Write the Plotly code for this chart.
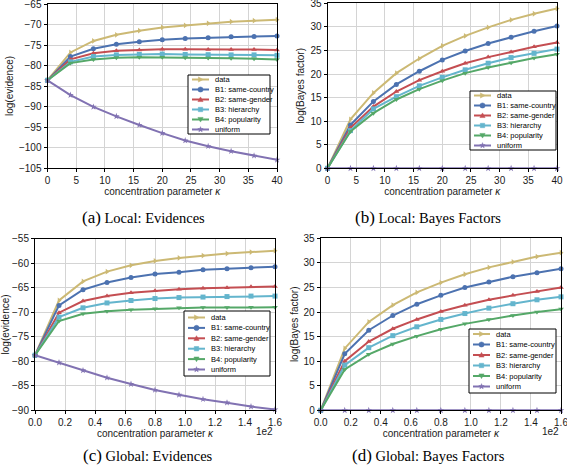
import math
import plotly.graph_objects as go

# ---------------- data ----------------
kappa_local = [0, 4, 8, 12, 16, 20, 24, 28, 32, 36, 40]
kappa_global = [0.0, 0.16, 0.32, 0.48, 0.64, 0.80, 0.96, 1.12, 1.28, 1.44, 1.60]  # x 1e2

series_names = ["data", "B1: same-country", "B2: same-gender", "B3: hierarchy", "B4: popularity", "uniform"]

local_ev_data = [-83.6, -76.8, -74.0, -72.5, -71.5, -70.7, -70.2, -69.7, -69.3, -69.05, -68.8]
local_ev_b1 = [-83.6, -77.8, -75.9, -74.8, -74.2, -73.7, -73.4, -73.2, -73.0, -72.9, -72.8]
local_ev_b2 = [-83.6, -78.5, -77.0, -76.4, -76.2, -76.0, -76.0, -76.1, -76.1, -76.1, -76.2]
local_ev_b3 = [-83.6, -79.1, -77.8, -77.4, -77.3, -77.2, -77.3, -77.35, -77.4, -77.4, -77.5]
local_ev_b4 = [-83.6, -79.4, -78.5, -78.1, -78.0, -78.0, -78.1, -78.15, -78.2, -78.35, -78.5]
local_ev_uni = [-83.6, -87.2, -90.1, -92.4, -94.5, -96.5, -98.3, -99.7, -100.9, -102.0, -103.0]

local_bf_data = [0, 10.4, 16.0, 20.2, 23.3, 26.0, 28.1, 29.9, 31.5, 32.8, 33.9]
local_bf_b1 = [0, 9.2, 14.2, 17.8, 20.6, 23.0, 24.9, 26.5, 27.8, 29.1, 30.2]
local_bf_b2 = [0, 8.6, 13.1, 16.3, 18.7, 20.6, 22.3, 23.6, 24.7, 25.8, 26.7]
local_bf_b3 = [0, 8.0, 12.6, 15.2, 17.5, 19.3, 20.9, 22.3, 23.5, 24.4, 25.3]
local_bf_b4 = [0, 7.8, 11.7, 14.6, 16.8, 18.6, 20.2, 21.4, 22.4, 23.4, 24.2]
local_bf_uni = [0, 0, 0, 0, 0, 0, 0, 0, 0, 0, 0]

global_ev_data = [-78.8, -67.6, -63.7, -61.7, -60.4, -59.5, -58.9, -58.4, -58.0, -57.7, -57.4]
global_ev_b1 = [-78.8, -68.6, -65.4, -63.9, -62.9, -62.2, -61.8, -61.3, -61.1, -60.9, -60.7]
global_ev_b2 = [-78.8, -70.1, -67.7, -66.7, -66.0, -65.6, -65.3, -65.1, -65.0, -64.8, -64.75]
global_ev_b3 = [-78.8, -71.0, -69.1, -68.1, -67.6, -67.2, -67.0, -66.9, -66.8, -66.7, -66.7]
global_ev_b4 = [-78.8, -71.8, -70.3, -69.8, -69.5, -69.3, -69.1, -69.05, -69.05, -69.0, -69.0]
global_ev_uni = [-78.8, -80.3, -81.9, -83.4, -84.7, -85.9, -86.9, -87.8, -88.5, -89.3, -89.9]

global_bf_data = [0, 12.6, 18.0, 21.4, 24.0, 26.0, 27.7, 29.1, 30.2, 31.3, 32.1]
global_bf_b1 = [0, 11.5, 16.3, 19.3, 21.6, 23.4, 25.0, 26.1, 27.2, 28.0, 28.8]
global_bf_b2 = [0, 10.0, 14.0, 16.6, 18.5, 20.1, 21.4, 22.5, 23.4, 24.2, 25.0]
global_bf_b3 = [0, 9.2, 12.75, 15.2, 17.0, 18.5, 19.7, 20.8, 21.7, 22.5, 23.1]
global_bf_b4 = [0, 8.3, 11.4, 13.5, 15.1, 16.5, 17.6, 18.5, 19.3, 20.0, 20.6]
global_bf_uni = [0, 0, 0, 0, 0, 0, 0, 0, 0, 0, 0]

captions = ["Local: Evidences", "Local: Bayes Factors", "Global: Evidences", "Global: Bayes Factors"]
caption_letters = ["(a)", "(b)", "(c)", "(d)"]

# ---------------- style ----------------
W, H = 567, 465
colors = ["#ccb974", "#4c72b0", "#c44e52", "#64b5cd", "#55a868", "#8172b2"]
symbols = ["triangle-right", "circle", "triangle-up", "square", "triangle-down", "star"]
FONT = "Liberation Sans, Arial, sans-serif"


def px(x):
    return x / W


def py(y):
    return 1 - y / H


panels = [
    dict(x=kappa_local, ys=[local_ev_data, local_ev_b1, local_ev_b2, local_ev_b3, local_ev_b4, local_ev_uni],
         xpx=(47.5, 277), ypx=(4, 168), xr=[0, 40], yr=[-105, -64.98], ydt=5, xdt=5,
         ytitle="log(evidence)", xfmt="d", leg=(188, 75, 270, 134, 79.5, 10.0), cap=(143, 218)),
    dict(x=kappa_local, ys=[local_bf_data, local_bf_b1, local_bf_b2, local_bf_b3, local_bf_b4, local_bf_uni],
         xpx=(327.5, 557), ypx=(3.3, 168.3), xr=[0, 40], yr=[0, 35.02], ydt=5, xdt=5,
         ytitle="log(Bayes factor)", xfmt="d", leg=(470, 91, 556, 150, 95.5, 10.0), cap=(428, 218)),
    dict(x=kappa_global, ys=[global_ev_data, global_ev_b1, global_ev_b2, global_ev_b3, global_ev_b4, global_ev_uni],
         xpx=(35, 275), ypx=(238.8, 410), xr=[0, 1.6], yr=[-90, -54.98], ydt=5, xdt=0.2,
         ytitle="log(evidence)", xfmt=".1f", leg=(184, 311, 270, 376, 317.5, 10.4), cap=(148, 455)),
    dict(x=kappa_global, ys=[global_bf_data, global_bf_b1, global_bf_b2, global_bf_b3, global_bf_b4, global_bf_uni],
         xpx=(320.7, 561), ypx=(238.3, 410.3), xr=[0, 1.6], yr=[0, 35.02], ydt=5, xdt=0.2,
         ytitle="log(Bayes factor)", xfmt=".1f", leg=(469, 329, 556, 393, 334, 10.5), cap=(428.5, 455)),
]

fig = go.Figure()
shapes = []
annotations = []
layout = dict(
    width=W, height=H, margin=dict(l=0, r=0, t=0, b=0, autoexpand=False),
    paper_bgcolor="white", plot_bgcolor="white",
    font=dict(family=FONT, size=10, color="#222222"),
    showlegend=False,
)


def marker_shape(sym, cx, cy, color, r=2.6):
    """Legend glyph marker in pixel coordinates -> paper shape."""
    if sym == "circle":
        return dict(type="circle", xref="paper", yref="paper",
                    x0=px(cx - r), x1=px(cx + r), y0=py(cy + r), y1=py(cy - r),
                    fillcolor=color, line=dict(color=color, width=0.5))
    if sym == "square":
        return dict(type="rect", xref="paper", yref="paper",
                    x0=px(cx - r * 0.85), x1=px(cx + r * 0.85), y0=py(cy + r * 0.85), y1=py(cy - r * 0.85),
                    fillcolor=color, line=dict(color=color, width=0.5))
    if sym == "triangle-up":
        pts = [(cx, cy - r), (cx + r, cy + r * 0.8), (cx - r, cy + r * 0.8)]
    elif sym == "triangle-down":
        pts = [(cx, cy + r), (cx + r, cy - r * 0.8), (cx - r, cy - r * 0.8)]
    elif sym == "triangle-right":
        pts = [(cx + r, cy), (cx - r * 0.8, cy - r), (cx - r * 0.8, cy + r)]
    else:  # star
        pts = []
        for k in range(10):
            rr = r * 1.1 if k % 2 == 0 else r * 0.45
            a = -math.pi / 2 + k * math.pi / 5
            pts.append((cx + rr * math.cos(a), cy + rr * math.sin(a)))
    path = "M " + " L ".join(f"{px(a):.5f},{py(b):.5f}" for a, b in pts) + " Z"
    return dict(type="path", xref="paper", yref="paper", path=path,
                fillcolor=color, line=dict(color=color, width=0.5))


for i, p in enumerate(panels):
    n = "" if i == 0 else str(i + 1)
    xa, ya = "x" + n, "y" + n
    for j in range(6):
        fig.add_trace(go.Scatter(
            x=p["x"], y=p["ys"][j], name=series_names[j], mode="lines+markers",
            line=dict(color=colors[j], width=2),
            marker=dict(symbol=symbols[j], size=5, color=colors[j]),
            xaxis=xa, yaxis=ya, cliponaxis=False,
        ))
    axis_common = dict(showgrid=True, gridcolor="#d4d4d4", gridwidth=1.2, zeroline=False,
                       showline=True, linecolor="black", linewidth=1, mirror=True,
                       ticks="outside", ticklen=3, tickcolor="black", automargin=False,
                       ticklabeloverflow="allow",
                       tickfont=dict(family=FONT, size=10, color="#1a1a1a"))
    xdom = [px(p["xpx"][0]), px(p["xpx"][1])]
    ydom = [py(p["ypx"][1]), py(p["ypx"][0])]
    layout["xaxis" + n] = dict(axis_common, domain=xdom, range=p["xr"], dtick=p["xdt"], tick0=0,
                               tickformat=p["xfmt"], anchor=ya,
                               title=dict(text="concentration parameter <i>κ</i>",
                                          font=dict(family=FONT, size=10, color="#1a1a1a"), standoff=2))
    layout["yaxis" + n] = dict(axis_common, domain=ydom, range=p["yr"], dtick=p["ydt"], tick0=0,
                               anchor=xa,
                               title=dict(text=p["ytitle"], font=dict(family=FONT, size=10, color="#1a1a1a"),
                                          standoff=3))

    # custom compact legend
    L, T, R, B, r0, sp = p["leg"]
    shapes.append(dict(type="rect", xref="paper", yref="paper", x0=px(L), x1=px(R), y0=py(B), y1=py(T),
                       fillcolor="white", line=dict(color="black", width=1), layer="above"))
    for j in range(6):
        yy = r0 + j * sp
        shapes.append(dict(type="line", xref="paper", yref="paper", x0=px(L + 4), x1=px(L + 21),
                           y0=py(yy), y1=py(yy), line=dict(color=colors[j], width=2), layer="above"))
        shp = marker_shape(symbols[j], L + 12.5, yy, colors[j])
        shp["layer"] = "above"
        shapes.append(shp)
        annotations.append(dict(x=px(L + 25), y=py(yy), xref="paper", yref="paper",
                                text=series_names[j], showarrow=False, xanchor="left", yanchor="middle",
                                font=dict(family=FONT, size=7.5, color="black")))

    # caption
    annotations.append(dict(
        x=px(p["cap"][0]), y=py(p["cap"][1]), xref="paper", yref="paper",
        text="<span style='font-size:17px'>" + caption_letters[i] + "</span> " + captions[i],
        showarrow=False, xanchor="center", yanchor="middle",
        font=dict(family="Liberation Serif, Times New Roman, serif", size=14.5, color="black")))
    if i >= 2:
        annotations.append(dict(
            x=px(p["xpx"][1]), y=py(431), xref="paper", yref="paper", text="1e2",
            showarrow=False, xanchor="right", yanchor="middle",
            font=dict(family=FONT, size=10, color="#1a1a1a")))

layout["shapes"] = shapes
layout["annotations"] = annotations
fig.update_layout(**layout)
fig.write_html("out.html", config={"displayModeBar": False},
               post_script="document.body.style.margin='0';document.body.style.padding='0';")
